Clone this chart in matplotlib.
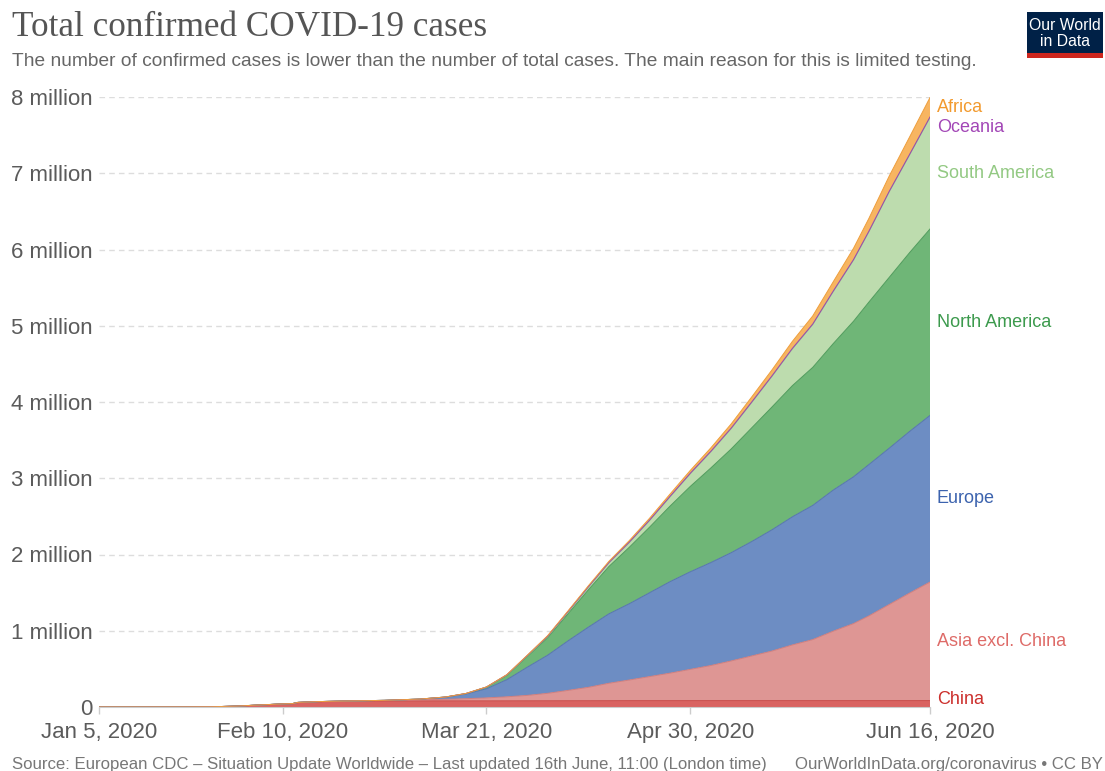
import matplotlib
matplotlib.use("Agg")
import matplotlib.pyplot as plt
from matplotlib.patches import Rectangle
import numpy as np
import pandas as pd

# ---------------- data (thousands of confirmed cases, cumulative) ----------------
dates = ["2020-01-05", "2020-01-15", "2020-01-22", "2020-01-27", "2020-02-01", "2020-02-06",
         "2020-02-10", "2020-02-12", "2020-02-13", "2020-02-17", "2020-02-22", "2020-03-01",
         "2020-03-08", "2020-03-13", "2020-03-17", "2020-03-21", "2020-03-25", "2020-03-29",
         "2020-04-02", "2020-04-06", "2020-04-10", "2020-04-14", "2020-04-18", "2020-04-22",
         "2020-04-26", "2020-04-30", "2020-05-04", "2020-05-08", "2020-05-12", "2020-05-16",
         "2020-05-20", "2020-05-24", "2020-05-28", "2020-06-01", "2020-06-04", "2020-06-08",
         "2020-06-12", "2020-06-16"]

china = [0.06, 0.06, 0.57, 2.74, 11.8, 28.1, 40.2, 44.7, 59.8, 70.5, 76.9, 80.0, 80.7, 81.0,
         81.1, 81.3, 81.7, 82.1, 82.4, 82.7, 82.9, 83.2, 83.8, 83.9, 83.9, 83.9, 84.0, 84.0,
         84.0, 84.0, 84.1, 84.1, 84.1, 84.1, 84.2, 84.2, 84.2, 84.3]
asia_excl_china = [0, 0.001, 0.01, 0.04, 0.09, 0.15, 0.2, 0.25, 0.3, 0.4, 0.75, 5.3, 14, 20,
                   28, 38, 52, 70, 97, 135, 175, 228, 270, 315, 360, 410, 460, 520, 585, 650,
                   730, 800, 910, 1010, 1110, 1260, 1410, 1555]
europe = [0, 0, 0, 0.004, 0.02, 0.03, 0.04, 0.045, 0.045, 0.047, 0.08, 2.0, 9, 28, 62, 120,
          225, 370, 500, 650, 790, 910, 1000, 1100, 1200, 1280, 1350, 1420, 1500, 1590, 1680,
          1760, 1850, 1925, 1985, 2050, 2120, 2185]
north_america = [0, 0, 0.001, 0.005, 0.008, 0.012, 0.015, 0.015, 0.016, 0.017, 0.035, 0.08,
                 0.45, 2.0, 5.5, 20, 57, 140, 230, 355, 490, 620, 740, 860, 990, 1120, 1240,
                 1360, 1490, 1610, 1720, 1810, 1920, 2040, 2130, 2240, 2345, 2445]
south_america = [0, 0, 0, 0, 0, 0, 0, 0, 0, 0, 0, 0.002, 0.03, 0.15, 0.6, 1.8, 4, 8, 14, 22,
                 33, 45, 60, 85, 120, 165, 210, 265, 330, 400, 480, 560, 680, 800, 920, 1120,
                 1280, 1460]
oceania = [0, 0, 0, 0.005, 0.009, 0.015, 0.015, 0.015, 0.015, 0.015, 0.017, 0.03, 0.08, 0.2,
           0.5, 1.2, 2.8, 4.5, 5.7, 6.8, 7.4, 7.7, 7.9, 8.0, 8.1, 8.2, 8.3, 8.4, 8.5, 8.6, 8.6,
           8.7, 8.7, 8.8, 8.8, 8.8, 8.9, 9.0]
africa = [0, 0, 0, 0, 0, 0, 0, 0, 0, 0, 0.001, 0.003, 0.07, 0.15, 0.5, 1.1, 2.2, 3.9, 6.5, 9,
          12.5, 15.5, 19.5, 24, 30, 37, 45, 55, 66, 78, 92, 106, 122, 148, 168, 200, 228, 255]

series_names = ["China", "Asia excl. China", "Europe", "North America", "South America",
                "Oceania", "Africa"]
series_values = [china, asia_excl_china, europe, north_america, south_america, oceania, africa]

y_ticks = [0, 1e6, 2e6, 3e6, 4e6, 5e6, 6e6, 7e6, 8e6]
y_tick_labels = ["0", "1 million", "2 million", "3 million", "4 million", "5 million",
                 "6 million", "7 million", "8 million"]
x_ticks = ["2020-01-05", "2020-02-10", "2020-03-21", "2020-04-30", "2020-06-16"]
x_tick_labels = ["Jan 5, 2020", "Feb 10, 2020", "Mar 21, 2020", "Apr 30, 2020", "Jun 16, 2020"]

title = "Total confirmed COVID-19 cases"
subtitle = ("The number of confirmed cases is lower than the number of total cases. "
            "The main reason for this is limited testing.")
source = ("Source: European CDC \u2013 Situation Update Worldwide \u2013 Last updated 16th June, "
          "11:00 (London time)")
credit = "OurWorldInData.org/coronavirus \u2022 CC BY"

# ---------------- styles ----------------
fill_colors = ["#D96361", "#DE9694", "#6D8DC3", "#6FB677", "#BDDCAE", "#A652BA", "#F7B561"]
edge_colors = ["#C94C4A", "#D27E7C", "#5574AE", "#4E9A5A", "#9CC78C", "#9A44AE", "#EE9E3C"]
label_colors = ["#CC2F2C", "#DE6B68", "#3C63AE", "#3C9A4D", "#93C983", "#A246B6", "#F29A2E"]

plt.rcParams["font.family"] = ["Liberation Sans", "DejaVu Sans"]

W, H = 1105, 771
fig = plt.figure(figsize=(W / 100, H / 100), dpi=100)

def fx(px):
    return px / W

def fy(py):
    return 1 - py / H

ax_left, ax_right, ax_top, ax_bottom = 99, 930, 97, 707
ax = fig.add_axes([fx(ax_left), fy(ax_bottom), fx(ax_right - ax_left), (ax_bottom - ax_top) / H])

x = pd.to_datetime(dates)
vals = np.array(series_values, dtype=float) * 1000.0
cum = np.cumsum(vals, axis=0)
base = np.zeros(len(x))
for i in range(len(series_names)):
    ax.fill_between(x, base, cum[i], facecolor=fill_colors[i], edgecolor="none", zorder=2)
    ax.plot(x, cum[i], color=edge_colors[i], lw=0.7, zorder=3)
    base = cum[i]

ax.set_xlim(pd.Timestamp(x_ticks[0]), pd.Timestamp(x_ticks[-1]))
ax.set_ylim(0, 8e6)

ax.set_yticks(y_ticks)
ax.set_yticklabels(y_tick_labels)
ax.tick_params(axis="y", length=0, pad=4.5, labelsize=16, labelcolor="#5B5B5B")

ax.set_xticks(pd.to_datetime(x_ticks))
ax.set_xticklabels(x_tick_labels)
ax.tick_params(axis="x", length=5, width=1, color="#CCCCCC", pad=5.5, labelsize=16,
               labelcolor="#5B5B5B")

ax.grid(axis="y", color="#DDDDDD", linestyle=(0, (4, 3)), lw=1, zorder=0)
ax.set_axisbelow(True)
for s in ["top", "right", "left"]:
    ax.spines[s].set_visible(False)
ax.spines["bottom"].set_color("#CCCCCC")
ax.spines["bottom"].set_zorder(4)

# ---------------- end labels (positioned from data) ----------------
last = cum[:, -1]
lower = np.concatenate([[0.0], last[:-1]])
ys = (last + lower) / 2.0
px_per_unit = (ax_bottom - ax_top) / 8e6
sep = 21 / px_per_unit
lo, hi = 8 / px_per_unit, 8e6 - 10 / px_per_unit
for _ in range(300):
    ys[0] = max(ys[0], lo)
    ys[-1] = min(ys[-1], hi)
    for i in range(len(ys) - 1):
        gap = ys[i + 1] - ys[i]
        if gap < sep:
            d = (sep - gap) / 2.0
            ys[i] -= d
            ys[i + 1] += d
ys[0] = max(ys[0], lo)
ys[-1] = min(ys[-1], hi)
for i, name in enumerate(series_names):
    ax.annotate(name, xy=(1, ys[i]), xycoords=("axes fraction", "data"),
                xytext=(5, 0), textcoords="offset points", ha="left", va="center",
                fontsize=13, color=label_colors[i], annotation_clip=False)

# ---------------- titles & footer ----------------
fig.text(fx(12), fy(28), title, fontsize=25.3, color="#555555", va="center", ha="left",
         family=["Liberation Serif", "DejaVu Serif"])
fig.text(fx(12), fy(61), subtitle, fontsize=13.8, color="#666666", va="center", ha="left")
fig.text(fx(12), fy(764), source, fontsize=12.1, color="#777777", va="center", ha="left")
fig.text(fx(1103), fy(764), credit, fontsize=12.1, color="#777777", va="center", ha="right")

# logo
fig.patches.append(Rectangle((fx(1027), fy(53)), fx(76), (53 - 12) / H, transform=fig.transFigure,
                             facecolor="#002147", edgecolor="none"))
fig.patches.append(Rectangle((fx(1027), fy(58)), fx(76), 5 / H, transform=fig.transFigure,
                             facecolor="#CE261E", edgecolor="none"))
fig.text(fx(1065), fy(25), "Our World", fontsize=11.3, color="white", ha="center", va="center")
fig.text(fx(1065), fy(42), "in Data", fontsize=11.3, color="white", ha="center", va="center")

fig.savefig("out.png", dpi=100)
